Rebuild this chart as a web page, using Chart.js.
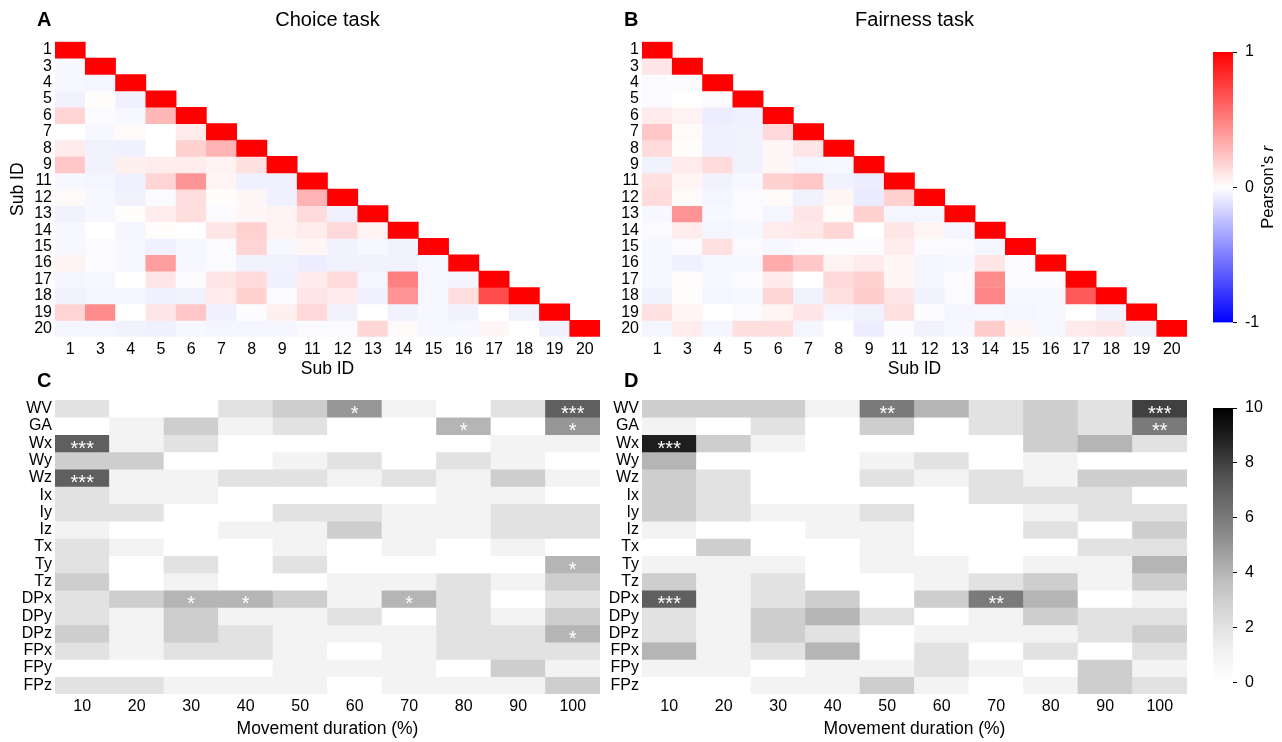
<!DOCTYPE html>
<html><head><meta charset="utf-8">
<script src="https://cdn.jsdelivr.net/npm/chart.js@4.4.0/dist/chart.umd.min.js"></script>
<style>
html,body{margin:0;padding:0;background:#fff;}
body{width:1282px;height:742px;position:relative;overflow:hidden;}
canvas{position:absolute;}
</style></head><body>
<canvas id="cA" width="620" height="390" style="left:0;top:0"></canvas>
<canvas id="cB" width="620" height="390" style="left:587px;top:0"></canvas>
<canvas id="cC" width="620" height="382" style="left:0;top:360px"></canvas>
<canvas id="cD" width="620" height="382" style="left:587px;top:360px"></canvas>
<canvas id="cb1" width="92" height="310" style="left:1190px;top:30px"></canvas>
<canvas id="cb2" width="92" height="310" style="left:1190px;top:390px"></canvas>
<script>
// ---------- DATA ----------
const subIds = ['1','3','4','5','6','7','8','9','11','12','13','14','15','16','17','18','19','20'];

// Panel A: Choice task, lower-triangular Pearson's r (row i has i+1 values)
const choiceR = [
[1],
[-0.03,1],
[-0.03,-0.04,1],
[-0.05,0.01,-0.06,1],
[0.17,-0.02,-0.03,0.28,1],
[0.0,-0.03,0.02,0.0,0.08,1],
[0.08,-0.05,-0.06,0.0,0.18,0.3,1],
[0.22,-0.05,0.06,0.07,0.07,0.05,0.12,1],
[-0.03,-0.04,-0.06,0.17,0.42,0.04,-0.06,-0.06,1],
[0.02,-0.03,-0.05,-0.02,0.13,0.01,0.03,-0.06,0.3,1],
[-0.05,-0.03,0.01,0.07,0.13,-0.02,0.03,0.05,0.14,-0.06,1],
[-0.03,0.0,-0.04,0.01,0.0,0.1,0.18,0.05,0.07,0.15,0.05,1],
[-0.03,-0.02,-0.03,-0.06,-0.03,-0.02,0.17,-0.03,0.04,-0.05,-0.03,-0.05,1],
[0.05,-0.02,-0.03,0.38,-0.03,-0.02,-0.05,-0.05,-0.07,-0.05,-0.05,-0.05,-0.03,1],
[-0.04,-0.03,0.0,0.1,-0.01,0.1,0.14,-0.06,0.08,0.14,-0.04,0.5,-0.03,-0.04,1],
[-0.05,-0.04,-0.04,-0.06,-0.05,0.08,0.18,-0.02,0.1,0.08,-0.06,0.42,-0.03,0.13,0.7,1],
[0.17,0.45,0.0,0.1,0.22,-0.06,-0.01,0.06,0.15,-0.05,0.0,-0.05,-0.03,-0.05,0.0,-0.05,1],
[-0.04,-0.04,-0.05,-0.06,-0.03,-0.04,-0.04,-0.04,-0.02,-0.02,0.16,0.02,-0.03,-0.03,0.03,0.0,-0.06,1]
];

// Panel B: Fairness task
const fairR = [
[1],
[0.1,1],
[-0.02,-0.02,1],
[-0.02,0.0,-0.02,1],
[0.08,0.05,-0.07,-0.06,1],
[0.22,0.02,-0.06,-0.05,0.15,1],
[0.14,0.01,-0.06,-0.05,0.03,0.1,1],
[-0.05,0.08,0.14,-0.05,0.03,-0.04,-0.03,1],
[0.12,0.04,-0.05,-0.03,0.18,0.22,-0.05,-0.07,1],
[0.14,0.02,-0.04,-0.02,0.02,-0.05,0.04,-0.08,0.18,1],
[-0.03,0.42,-0.03,-0.02,-0.04,0.1,0.01,0.18,-0.04,-0.04,1],
[-0.02,0.07,-0.04,-0.03,0.07,0.09,0.16,0.0,0.1,0.04,-0.04,1],
[-0.03,-0.02,0.12,-0.02,-0.03,-0.02,-0.01,-0.01,0.07,-0.02,-0.02,-0.04,1],
[-0.03,-0.06,-0.03,-0.03,0.33,0.22,0.05,0.08,0.03,-0.04,-0.03,0.1,-0.02,1],
[-0.03,0.01,-0.03,-0.02,0.08,0.0,0.15,0.18,0.03,-0.04,-0.02,0.45,-0.02,-0.02,1],
[-0.05,0.01,-0.04,-0.03,0.16,-0.05,0.12,0.2,0.1,-0.05,-0.02,0.47,-0.03,-0.03,0.65,1],
[0.12,0.04,0.0,-0.02,0.04,0.1,-0.04,-0.05,0.12,-0.01,-0.04,-0.03,-0.04,-0.03,0.0,-0.05,1],
[-0.04,0.07,-0.04,0.13,0.13,-0.04,0.0,-0.07,-0.01,-0.05,-0.03,0.2,0.03,-0.03,0.08,0.1,-0.05,1]
];

const moveLabels = ['10','20','30','40','50','60','70','80','90','100'];
const featLabels = ['WV','GA','Wx','Wy','Wz','Ix','Iy','Iz','Tx','Ty','Tz','DPx','DPy','DPz','FPx','FPy','FPz'];

// Panel C: Choice task counts
const choiceCounts = [
[2,0,0,2,3,5,1,0,2,7],
[0,1,3,1,2,0,0,4,0,5],
[7,1,2,0,0,0,0,0,1,1],
[3,3,0,0,1,2,0,2,1,0],
[7,1,1,2,2,1,2,1,3,1],
[2,1,1,0,0,0,0,1,1,0],
[2,2,0,0,2,2,1,1,2,2],
[1,0,0,1,1,3,1,1,2,2],
[2,1,0,0,1,0,1,0,1,0],
[2,0,2,0,2,0,0,0,0,4],
[3,0,1,0,0,1,1,2,1,3],
[2,3,4,4,3,1,4,2,0,2],
[2,1,3,1,1,2,0,2,1,3],
[3,1,3,2,1,1,1,2,2,4],
[2,1,2,2,1,0,1,2,2,2],
[0,0,0,0,1,1,1,0,3,1],
[2,2,1,1,1,0,1,1,1,3]
];
// Panel D: Fairness task counts
const fairCounts = [
[3,3,3,1,6,4,2,3,2,8],
[1,0,2,0,3,0,2,3,2,6],
[9,3,1,0,0,0,0,3,4,2],
[4,0,0,0,1,2,0,1,0,0],
[3,2,0,0,2,1,2,1,3,3],
[3,2,0,0,0,0,2,2,2,0],
[3,2,1,1,2,0,0,1,2,2],
[1,0,0,1,1,0,0,2,0,3],
[0,3,0,0,1,0,0,0,2,2],
[1,1,1,0,1,1,0,1,1,4],
[3,1,2,0,0,1,2,3,1,3],
[7,1,2,3,0,3,6,4,0,1],
[2,1,3,4,2,0,1,3,2,2],
[2,1,3,2,0,1,1,1,2,3],
[4,1,2,4,0,2,0,2,0,2],
[1,1,0,1,1,2,1,0,3,1],
[0,0,1,1,3,1,0,1,3,2]
];

// significance marks [feature, duration, stars]
const sigChoice = [['WV','60','*'],['WV','100','***'],['GA','80','*'],['GA','100','*'],['Wx','10','***'],['Wz','10','***'],['Ty','100','*'],['DPx','30','*'],['DPx','40','*'],['DPx','70','*'],['DPz','100','*']];
const sigFair = [['WV','50','**'],['WV','100','***'],['GA','100','**'],['Wx','10','***'],['DPx','10','***'],['DPx','70','**']];

const rTicks = [-1,0,1];
const countTicks = [0,2,4,6,8,10];

// ---------- HELPERS ----------
const FONT = "'Liberation Sans', Arial, Helvetica, sans-serif";
Chart.defaults.font.family = FONT;
Chart.defaults.color = '#000';

function bwr(v){
  if (v >= 0){ const c = Math.round(255*(1-v)); return `rgb(255,${c},${c})`; }
  const c = Math.round(255*(1+v)); return `rgb(${c},${c},255)`;
}
const greysStops = [1,0.9412,0.8510,0.7412,0.5882,0.4510,0.3216,0.1451,0];
function greys(v){
  const t = Math.max(0, Math.min(1, v/10))*8;
  const i = Math.min(7, Math.floor(t)); const f = t - i;
  const g = greysStops[i] + (greysStops[i+1]-greysStops[i])*f;
  const c = Math.round(255*g); return `rgb(${c},${c},${c})`;
}

function textPlugin(cfg){
  return {
    id: 'txt',
    afterDraw(chart){
      const ctx = chart.ctx, a = chart.chartArea;
      ctx.save();
      ctx.fillStyle = '#000';
      ctx.textBaseline = 'middle';
      ctx.font = `bold 20px ${FONT}`; ctx.textAlign = 'left';
      ctx.fillText(cfg.letter, 37, cfg.letterY);
      if (cfg.title){
        ctx.font = `20px ${FONT}`; ctx.textAlign = 'center';
        ctx.fillText(cfg.title, (a.left+a.right)/2, cfg.letterY);
      }
      ctx.font = `17.5px ${FONT}`; ctx.textAlign = 'center';
      ctx.fillText(cfg.xTitle, (a.left+a.right)/2, cfg.xTitleY);
      if (cfg.yTitle){
        ctx.save();
        ctx.translate(18, (a.top+a.bottom)/2);
        ctx.rotate(-Math.PI/2);
        ctx.fillText(cfg.yTitle, 0, 0);
        ctx.restore();
      }
      if (cfg.sig){
        const x = chart.scales.x, y = chart.scales.y;
        ctx.fillStyle = '#fff';
        ctx.font = `20px ${FONT}`; ctx.textAlign = 'center'; ctx.textBaseline = 'alphabetic';
        for (const [r, c, s] of cfg.sig){
          const px = x.getPixelForValue(cfg.xLabels.indexOf(c));
          const py = y.getPixelForValue(cfg.yLabels.indexOf(r));
          ctx.fillText(s, px, py + 11.5);
        }
      }
      ctx.restore();
    }
  };
}

function makeHeatmap(id, xLabels, yLabels, getVal, colorFn, cfg){
  const datasets = yLabels.map((_, i) => ({
    data: xLabels.map((_, j) => getVal(i, j) == null ? null : [i-0.5, i+0.5]),
    backgroundColor: xLabels.map((_, j) => { const v = getVal(i, j); return v == null ? 'rgba(0,0,0,0)' : colorFn(v); }),
    borderWidth: 0, barPercentage: 1, categoryPercentage: 1, grouped: false
  }));
  new Chart(document.getElementById(id), {
    type: 'bar',
    data: { labels: xLabels, datasets },
    options: {
      responsive: false, animation: false,
      layout: { padding: { top: cfg.top, right: 20, left: 0, bottom: 0 } },
      plugins: { legend: { display: false }, tooltip: { enabled: false } },
      scales: {
        x: { type: 'category', offset: true,
             grid: { display: false, drawTicks: false }, border: { display: false },
             ticks: { font: { size: 16 }, padding: 3, maxRotation: 0, autoSkip: false },
             afterFit(s){ s.height = cfg.xAxisH; } },
        y: { type: 'linear', min: -0.5, max: yLabels.length - 0.5, reverse: true,
             grid: { display: false, drawTicks: false }, border: { display: false },
             afterBuildTicks(s){ s.ticks = yLabels.map((_, i) => ({ value: i })); },
             ticks: { font: { size: 16 }, padding: 3, autoSkip: false, callback: (v) => yLabels[v] },
             afterFit(s){ s.width = 55; } }
      }
    },
    plugins: [textPlugin(Object.assign({ xLabels, yLabels }, cfg))]
  });
}

const triVal = (m) => (i, j) => (j <= i ? m[i][j] : null);
const fullVal = (m) => (i, j) => m[i][j];

makeHeatmap('cA', subIds, subIds, triVal(choiceR), bwr,
  { top: 41.7, xAxisH: 53.3, letter: 'A', title: 'Choice task', letterY: 20, xTitle: 'Sub ID', xTitleY: 369, yTitle: 'Sub ID' });
makeHeatmap('cB', subIds, subIds, triVal(fairR), bwr,
  { top: 41.7, xAxisH: 53.3, letter: 'B', title: 'Fairness task', letterY: 20, xTitle: 'Sub ID', xTitleY: 369 });
makeHeatmap('cC', moveLabels, featLabels, fullVal(choiceCounts), greys,
  { top: 40, xAxisH: 48, letter: 'C', letterY: 21, xTitle: 'Movement duration (%)', xTitleY: 369, sig: sigChoice });
makeHeatmap('cD', moveLabels, featLabels, fullVal(fairCounts), greys,
  { top: 40, xAxisH: 48, letter: 'D', letterY: 21, xTitle: 'Movement duration (%)', xTitleY: 369, sig: sigFair });

// ---------- COLORBARS ----------
function makeColorbar(id, ticks, stops, padTop, padBottom, label){
  const lo = ticks[0], hi = ticks[ticks.length-1];
  new Chart(document.getElementById(id), {
    type: 'bar',
    data: { labels: [''], datasets: [{
      data: [[lo, hi]], borderWidth: 0, barPercentage: 1, categoryPercentage: 1,
      backgroundColor: (c) => {
        const a = c.chart.chartArea; if (!a) return '#ccc';
        const g = c.chart.ctx.createLinearGradient(0, a.bottom, 0, a.top);
        stops.forEach(([t, col]) => g.addColorStop(t, col));
        return g;
      }
    }]},
    options: {
      responsive: false, animation: false,
      layout: { padding: { left: 23, top: padTop, bottom: padBottom, right: 0 } },
      plugins: { legend: { display: false }, tooltip: { enabled: false } },
      scales: {
        x: { display: false },
        y: { position: 'right', min: lo, max: hi,
             afterBuildTicks(s){ s.ticks = ticks.map(v => ({ value: v })); },
             grid: { drawOnChartArea: false, drawTicks: true, tickLength: 4, color: '#000', lineWidth: 1 },
             border: { display: false },
             ticks: { font: { size: 16 }, padding: 8, color: '#000' },
             afterFit(s){ s.width = 49; } }
      }
    },
    plugins: label ? [{
      id: 'cblabel',
      afterDraw(chart){
        const ctx = chart.ctx, a = chart.chartArea;
        ctx.save();
        ctx.fillStyle = '#000'; ctx.textBaseline = 'middle'; ctx.textAlign = 'left';
        ctx.translate(78, (a.top + a.bottom)/2);
        ctx.rotate(-Math.PI/2);
        ctx.font = `16.5px ${FONT}`;
        const w1 = ctx.measureText(label[0]).width;
        ctx.font = `italic 16.5px ${FONT}`;
        const w2 = ctx.measureText(label[1]).width;
        const x0 = -(w1 + w2)/2;
        ctx.font = `16.5px ${FONT}`; ctx.fillText(label[0], x0, 0);
        ctx.font = `italic 16.5px ${FONT}`; ctx.fillText(label[1], x0 + w1, 0);
        ctx.restore();
      }
    }] : []
  });
}
makeColorbar('cb1', rTicks, [[0,'#0000ff'],[0.5,'#ffffff'],[1,'#ff0000']], 22, 17, ["Pearson's ", 'r']);
makeColorbar('cb2', countTicks, greysStops.map((g, i) => { const c = Math.round(255*g); return [i/8, `rgb(${c},${c},${c})`]; }), 18, 17, null);
</script>
</body></html>
